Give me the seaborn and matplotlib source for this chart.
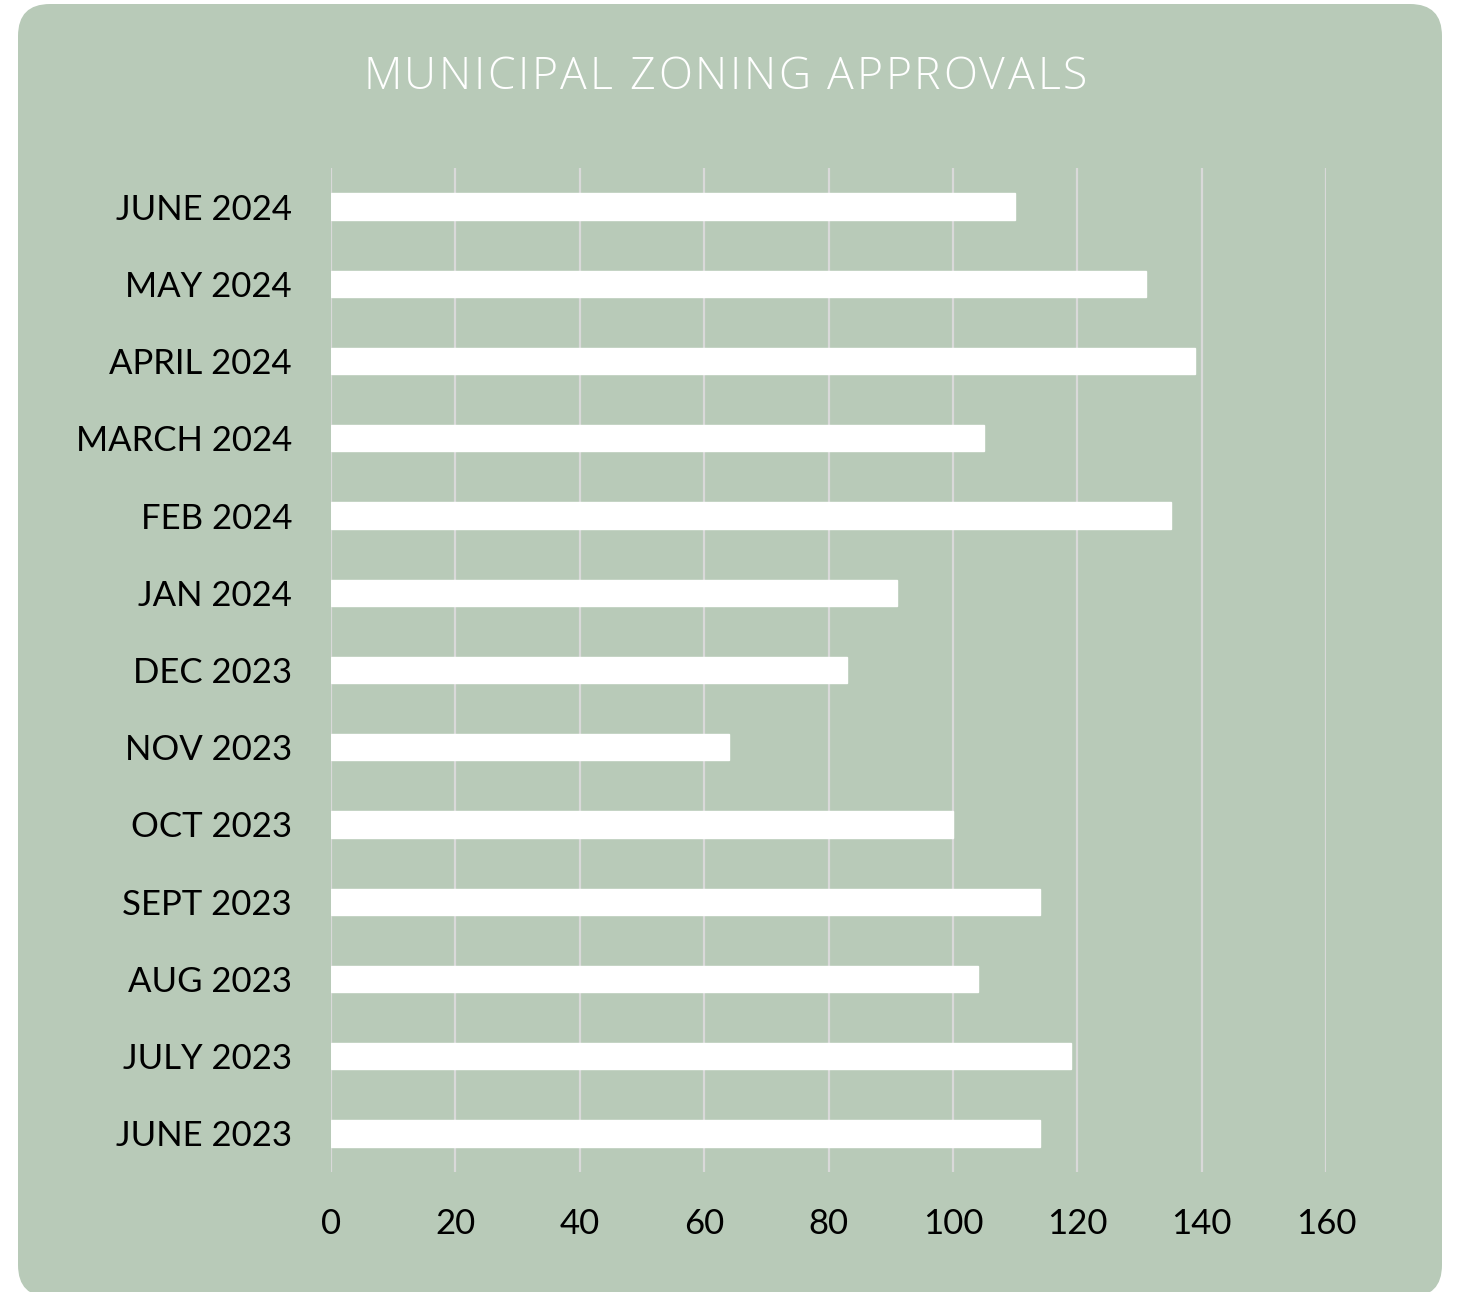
import matplotlib
matplotlib.use("Agg")
import matplotlib.pyplot as plt
import seaborn as sns
from matplotlib.patches import FancyBboxPatch

months = ["JUNE 2024", "MAY 2024", "APRIL 2024", "MARCH 2024", "FEB 2024",
          "JAN 2024", "DEC 2023", "NOV 2023", "OCT 2023", "SEPT 2023",
          "AUG 2023", "JULY 2023", "JUNE 2023"]
approvals = [110, 131, 139, 105, 135, 91, 83, 64, 100, 114, 104, 119, 114]
x_ticks = [0, 20, 40, 60, 80, 100, 120, 140, 160]

BG = "#B8CAB8"
GRID = "#D9D9D9"

sns.set_style("white")
plt.rcParams["font.family"] = ["Lato", "DejaVu Sans"]


def spaced_title(fig, text, xc, y, total_px, **kw):
    # matplotlib has no letter-spacing, so place the letters one by one
    r = fig.canvas.get_renderer()

    def w(s):
        t = fig.text(0, 0, s, **kw)
        bw = t.get_window_extent(r).width
        t.remove()
        return bw

    base = w("HH")
    adv = [w("H" + ch + "H") - base for ch in text]
    gap = (total_px - sum(adv)) / (len(text) - 1)
    figw = fig.get_figwidth() * fig.dpi
    x = xc * figw - total_px / 2
    for ch, a in zip(text, adv):
        fig.text(x / figw, y, ch, ha="left", va="center", **kw)
        x += a + gap


def main():
    fig = plt.figure(figsize=(14.57, 12.92), dpi=100)
    fig.patch.set_facecolor("white")

    W, H = 1457, 1292
    box = FancyBboxPatch((18 / W, -5 / H), 1424 / W, 1293 / H,
                         boxstyle="round,pad=0,rounding_size=%f" % (32 / W),
                         transform=fig.transFigure, facecolor=BG,
                         edgecolor="none", zorder=-5,
                         mutation_aspect=W / H)
    fig.patches.append(box)

    ax = fig.add_axes([331 / W, 1 - 1172 / H, 995 / W, 1004 / H])
    ax.set_facecolor("none")
    ax.set_zorder(2)

    sns.barplot(x=approvals, y=months, order=months, orient="h",
                color="white", width=0.34, saturation=1, ax=ax, zorder=3)

    ax.set_xlim(0, 160)
    ax.set_ylim(12.5, -0.5)
    ax.set_xticks(x_ticks)
    ax.xaxis.grid(True, color=GRID, linewidth=1.6, zorder=0)
    ax.set_axisbelow(True)
    for s in ax.spines.values():
        s.set_visible(False)
    ax.tick_params(axis="x", length=0, pad=26, labelsize=25, colors="black")
    ax.tick_params(axis="y", length=0, pad=28, labelsize=25, colors="black")
    ax.set_xlabel("")
    ax.set_ylabel("")

    spaced_title(fig, "MUNICIPAL ZONING APPROVALS", 725 / W, 1 - 78 / H, 724,
                 fontsize=32, color="white", family="Open Sans",
                 fontweight="light")

    fig.savefig("out.png", dpi=100, facecolor=fig.get_facecolor())


if __name__ == "__main__":
    main()
